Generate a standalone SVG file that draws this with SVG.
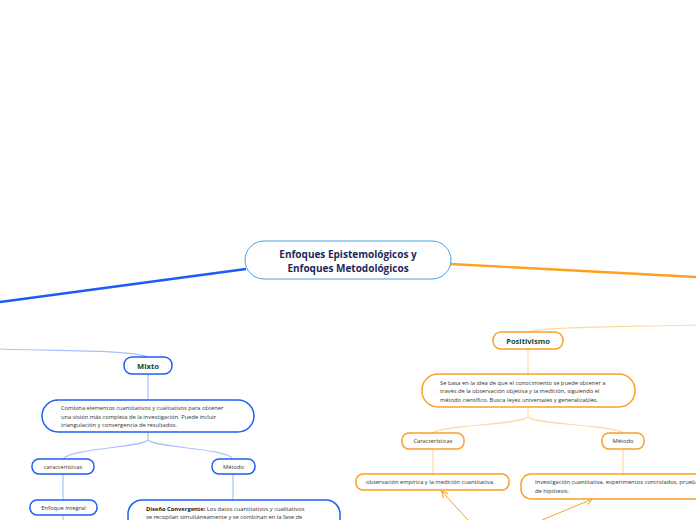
<svg xmlns="http://www.w3.org/2000/svg" width="696" height="520" viewBox="0 0 696 520">
<defs>
<style>
.t{font-family:"Open Sans","Noto Sans","Liberation Sans",sans-serif;}
.title{font-size:10px;font-weight:bold;fill:#1b2a5a;text-anchor:middle;}
.head{font-size:7.6px;font-weight:bold;fill:#0e4a3a;text-anchor:middle;}
.small{font-size:5.75px;fill:#333;}
.smallc{font-size:5.75px;fill:#333;text-anchor:middle;}
.bn{fill:#fff;stroke:#1f5ef5;stroke-width:1.5;}
.on{fill:#fff;stroke:#f9a02a;stroke-width:1.5;}
.bc{fill:none;stroke:#a9c1ff;stroke-width:1.2;}
.oc{fill:none;stroke:#ffd9a3;stroke-width:1.2;}
.arr{fill:none;stroke:#f9a02a;stroke-width:1;}
</style>
<marker id="ah" viewBox="0 0 10 10" refX="9" refY="5" markerWidth="8" markerHeight="8" orient="auto" markerUnits="userSpaceOnUse">
<path d="M1,1 L9,5 L1,9" fill="none" stroke="#f9a02a" stroke-width="1.2"/>
</marker>
</defs>
<rect width="696" height="520" fill="#fff"/>
<g id="connectors">
<line x1="0" y1="302" x2="246" y2="269" stroke="#1a5cf5" stroke-width="2.4"/>
<line x1="450" y1="264" x2="696" y2="277" stroke="#ffa01e" stroke-width="2.4"/>
<path class="bc" d="M0,349 C60,351 130,350 148,357"/>
<path class="oc" d="M696,325 C620,327 540,327 528,332"/>
<path class="bc" d="M148,374 V400"/>
<path class="bc" d="M148,432 V440 C140,448 72,448 63,459"/>
<path class="bc" d="M148,440 C156,448 226,448 233,459"/>
<path class="bc" d="M63,474 V500"/>
<path class="bc" d="M63,515 V520"/>
<path class="bc" d="M233,474 V500"/>
<path class="oc" d="M528,349 V374"/>
<path class="oc" d="M528,407 V417 C520,425 440,425 433,433"/>
<path class="oc" d="M528,417 C536,425 616,425 623,433"/>
<path class="oc" d="M433,449 V474"/>
<path class="oc" d="M623,449 V474"/>
<line class="arr" x1="468" y1="520" x2="441.5" y2="491" marker-end="url(#ah)"/>
<line class="arr" x1="542" y1="520" x2="592.5" y2="499" marker-end="url(#ah)"/>
</g>
<g id="central">
<rect x="245" y="241" width="206" height="38" rx="19" fill="#fff" stroke="#4a9ede" stroke-width="1"/>
<text class="t title" x="348" y="257.5">Enfoques Epistemológicos y</text>
<text class="t title" x="348" y="271.5">Enfoques Metodológicos</text>
</g>
<g id="mixto">
<rect class="bn" x="124" y="357" width="48" height="17" rx="8"/>
<text class="t head" x="148" y="368.5">Mixto</text>
</g>
<g id="mixto-desc">
<rect class="bn" x="42" y="400" width="212" height="32" rx="16"/>
<text class="t small" x="61" y="410">Combina elementos cuantitativos y cualitativos para obtener</text>
<text class="t small" x="61" y="418.5">una visión más completa de la investigación. Puede incluir</text>
<text class="t small" x="61" y="427">triangulación y convergencia de resultados.</text>
</g>
<g id="mixto-caract">
<rect class="bn" x="32" y="459" width="62" height="15" rx="7"/>
<text class="t smallc" x="63" y="468.5">características</text>
</g>
<g id="mixto-metodo">
<rect class="bn" x="212" y="459" width="43" height="15" rx="7"/>
<text class="t smallc" x="233.5" y="468.5">Método</text>
</g>
<g id="enfoque-integral">
<rect class="bn" x="30" y="500" width="67" height="15" rx="7"/>
<text class="t smallc" x="63.5" y="509.5">Enfoque Integral</text>
</g>
<g id="diseno">
<rect class="bn" x="128" y="500" width="212" height="40" rx="14"/>
<text class="t small" x="146" y="510.5"><tspan font-weight="bold" fill="#222">Diseño Convergente:</tspan> Los datos cuantitativos y cualitativos</text>
<text class="t small" x="146" y="519">se recopilan simultáneamente y se combinan en la fase de</text>
</g>
<g id="positivismo">
<rect class="on" x="493" y="332" width="70" height="17" rx="8"/>
<text class="t head" x="528" y="343.5">Positivismo</text>
</g>
<g id="pos-desc">
<rect class="on" x="422" y="374" width="213" height="33" rx="16"/>
<text class="t small" x="440" y="384.5">Se basa en la idea de que el conocimiento se puede obtener a</text>
<text class="t small" x="440" y="393">través de la observación objetiva y la medición, siguiendo el</text>
<text class="t small" x="440" y="401.5">método científico. Busca leyes universales y generalizables.</text>
</g>
<g id="pos-caract">
<rect class="on" x="402" y="433" width="62" height="16" rx="7"/>
<text class="t smallc" x="433" y="443">Características</text>
</g>
<g id="pos-metodo">
<rect class="on" x="602" y="433" width="42" height="16" rx="7"/>
<text class="t smallc" x="623" y="443">Método</text>
</g>
<g id="observacion">
<rect class="on" x="356" y="474" width="153" height="16" rx="7"/>
<text class="t small" x="366" y="484">observación empírica y la medición cuantitativa.</text>
</g>
<g id="investigacion">
<rect class="on" x="521" y="474" width="240" height="25" rx="10"/>
<text class="t small" x="535" y="484">Investigación cuantitativa, experimentos controlados, pruebas</text>
<text class="t small" x="535" y="493">de hipótesis.</text>
</g>
</svg>
